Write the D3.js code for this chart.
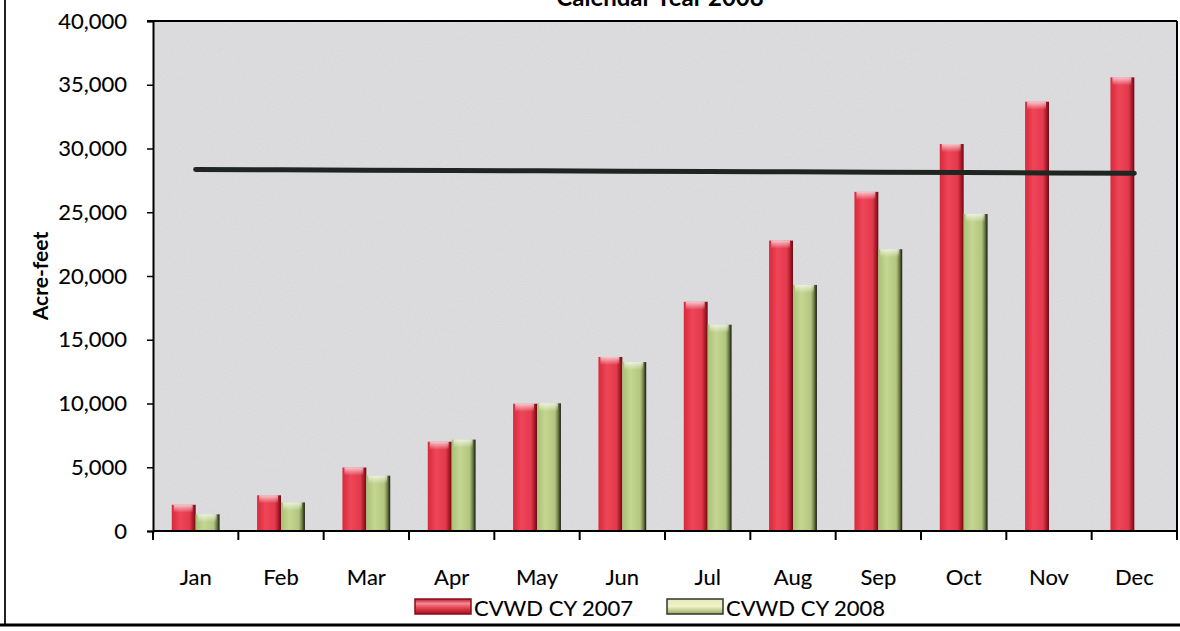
<!DOCTYPE html>
<html><head><meta charset="utf-8">
<script src="https://cdn.jsdelivr.net/npm/d3@7"></script>
<style>
html,body{margin:0;padding:0;background:#fff;}
svg{display:block;font-family:Lato,"Open Sans",sans-serif;}
</style></head>
<body>
<svg id="c" width="1180" height="631"></svg>
<script>
const months = ["Jan","Feb","Mar","Apr","May","Jun","Jul","Aug","Sep","Oct","Nov","Dec"];
const seriesNames = ["CVWD CY 2007","CVWD CY 2008"];
const cy2007 = [2060, 2800, 4980, 7000, 9980, 13650, 17980, 22780, 26600, 30350, 33670, 35580];
const cy2008 = [1310, 2240, 4340, 7170, 10020, 13250, 16180, 19300, 22100, 24860, null, null];
const targetLine = [28360, 28330, 28300, 28280, 28250, 28220, 28200, 28170, 28140, 28110, 28080, 28050];
const yTicks = [0,5000,10000,15000,20000,25000,30000,35000,40000];

const svg = d3.select("#c");
const L=153, R=1177, T=21, B=531;
const x0 = d3.scaleBand().domain(months).range([L,R]).padding(0);
const x1 = d3.scaleBand().domain(seriesNames).range([x0.bandwidth()*0.22, x0.bandwidth()*0.78]).padding(0);
const y = d3.scaleLinear().domain([0,40000]).range([B,T]);

const defs = svg.append("defs");
function grad(id, stops){
  const g = defs.append("linearGradient").attr("id",id).attr("x1",0).attr("x2",1).attr("y1",0).attr("y2",0);
  stops.forEach(s=>g.append("stop").attr("offset",s[0]).attr("stop-color",s[1]));
}
grad("gRed",[[0,"#d8283c"],[0.35,"#ee4658"],[0.75,"#e23a4c"],[0.88,"#b01c2c"],[1,"#6a0a14"]]);
grad("gGreen",[[0,"#a9c074"],[0.35,"#c4d792"],[0.75,"#b2c67f"],[0.88,"#6f7f44"],[1,"#151812"]]);
const tg = defs.append("linearGradient").attr("id","gTop").attr("x1",0).attr("x2",0).attr("y1",0).attr("y2",1);
tg.append("stop").attr("offset",0).attr("stop-color","#fff").attr("stop-opacity",0.7);
tg.append("stop").attr("offset",1).attr("stop-color","#fff").attr("stop-opacity",0);

const f = defs.append("filter").attr("id","noise").attr("x",0).attr("y",0).attr("width","100%").attr("height","100%");
f.append("feTurbulence").attr("type","fractalNoise").attr("baseFrequency",0.9).attr("numOctaves",2).attr("seed",3).attr("result","n");
f.append("feColorMatrix").attr("in","n").attr("type","matrix")
 .attr("values","0 0 0 0 0.97  0 0 0 0 0.97  0 0 0 0 0.98  0 0 0 0.5 0").attr("result","m");
f.append("feComposite").attr("in","m").attr("in2","SourceGraphic").attr("operator","in");

svg.append("rect").attr("x",L).attr("y",T).attr("width",R-L).attr("height",B-T).attr("fill","#d6d6d9");
svg.append("rect").attr("x",L).attr("y",T).attr("width",R-L).attr("height",B-T).attr("fill","#d6d6d9").attr("filter","url(#noise)").attr("opacity",0.55);

const data = months.map((m,i)=>({m, vals:[{s:seriesNames[0],v:cy2007[i]},{s:seriesNames[1],v:cy2008[i]}]}));
const groups = svg.append("g").selectAll("g").data(data).join("g").attr("transform",d=>`translate(${x0(d.m)},0)`);
const bars = groups.selectAll("g").data(d=>d.vals.filter(v=>v.v!=null)).join("g");
bars.append("rect").attr("x",d=>x1(d.s)).attr("y",d=>y(d.v)).attr("width",x1.bandwidth()).attr("height",d=>B-y(d.v))
  .attr("fill",d=>d.s===seriesNames[0]?"url(#gRed)":"url(#gGreen)");
bars.append("rect").attr("x",d=>x1(d.s)+2).attr("y",d=>y(d.v)).attr("width",x1.bandwidth()-5).attr("height",8)
  .attr("fill","url(#gTop)");

svg.append("path").datum(targetLine)
  .attr("d", d3.line().x((d,i)=>x0(months[i])+x0.bandwidth()/2).y(d=>y(d)))
  .attr("fill","none").attr("stroke","#1f2622").attr("stroke-width",5).attr("stroke-linecap","round");

svg.append("line").attr("x1",L-6).attr("x2",R).attr("y1",T).attr("y2",T).attr("stroke","#000").attr("stroke-width",2);
svg.append("line").attr("x1",R).attr("x2",R).attr("y1",T).attr("y2",B).attr("stroke","#000").attr("stroke-width",2);

const yAxis = svg.append("g").attr("transform",`translate(${L},0)`)
  .call(d3.axisLeft(y).tickValues(yTicks).tickSize(6).tickPadding(20).tickFormat(d3.format(",")));
yAxis.select(".domain").attr("stroke","#000").attr("stroke-width",2);
yAxis.selectAll(".tick line").attr("stroke","#000").attr("stroke-width",1.5);
yAxis.selectAll("text").attr("font-size",22).attr("fill","#000").attr("font-family","Lato,sans-serif")
  .attr("stroke","#000").attr("stroke-width",0.12);

const bnd = months.map(m=>x0(m)).concat([R]);
const xg = svg.append("g");
xg.append("line").attr("x1",L).attr("x2",R).attr("y1",B).attr("y2",B).attr("stroke","#000").attr("stroke-width",2);
xg.selectAll("line.t").data(bnd).join("line").attr("class","t").attr("x1",d=>d).attr("x2",d=>d).attr("y1",B).attr("y2",B+9).attr("stroke","#000").attr("stroke-width",2);
xg.selectAll("text").data(months).join("text").attr("x",d=>x0(d)+x0.bandwidth()/2).attr("y",585)
  .attr("text-anchor","middle").attr("font-size",22).attr("fill","#000").attr("stroke","#000").attr("stroke-width",0.12).text(d=>d);

svg.append("text").attr("transform","translate(48,276) rotate(-90)").attr("text-anchor","middle")
  .attr("font-size",21).attr("font-weight","bold").attr("fill","#000").text("Acre-feet");

svg.append("text").attr("x",(L+R)/2 - 5).attr("y",6).attr("text-anchor","middle")
  .attr("font-size",24).attr("font-weight","bold").attr("fill","#000").text("Calendar Year 2008");

const gl1 = defs.append("linearGradient").attr("id","gRedL").attr("x1",0).attr("x2",0).attr("y1",0).attr("y2",1);
[[0,"#b81c2e"],[0.3,"#f28a96"],[0.6,"#e5404f"],[1,"#a01020"]].forEach(s=>gl1.append("stop").attr("offset",s[0]).attr("stop-color",s[1]));
const gl2 = defs.append("linearGradient").attr("id","gGreenL").attr("x1",0).attr("x2",0).attr("y1",0).attr("y2",1);
[[0,"#e4ecb8"],[0.5,"#f3f1c8"],[1,"#98aa60"]].forEach(s=>gl2.append("stop").attr("offset",s[0]).attr("stop-color",s[1]));
const leg = svg.append("g");
const legItems = [{s:seriesNames[0],x:415,fill:"url(#gRedL)"},{s:seriesNames[1],x:667,fill:"url(#gGreenL)"}];
legItems.forEach((it,i)=>{
  leg.append("rect").attr("x",it.x).attr("y",599).attr("width",56).attr("height",15).attr("fill",it.fill)
    .attr("stroke",i===0?"#8a0c18":"#333").attr("stroke-width",1.5);
  leg.append("text").attr("x",it.x+59).attr("y",616).attr("font-size",22).attr("fill","#000")
    .attr("stroke","#000").attr("stroke-width",0.12).text(it.s);
});

svg.append("line").attr("x1",5).attr("x2",5).attr("y1",0).attr("y2",626).attr("stroke","#222").attr("stroke-width",2);
svg.append("line").attr("x1",0).attr("x2",1180).attr("y1",625).attr("y2",625).attr("stroke","#000").attr("stroke-width",3);
</script>
</body></html>
